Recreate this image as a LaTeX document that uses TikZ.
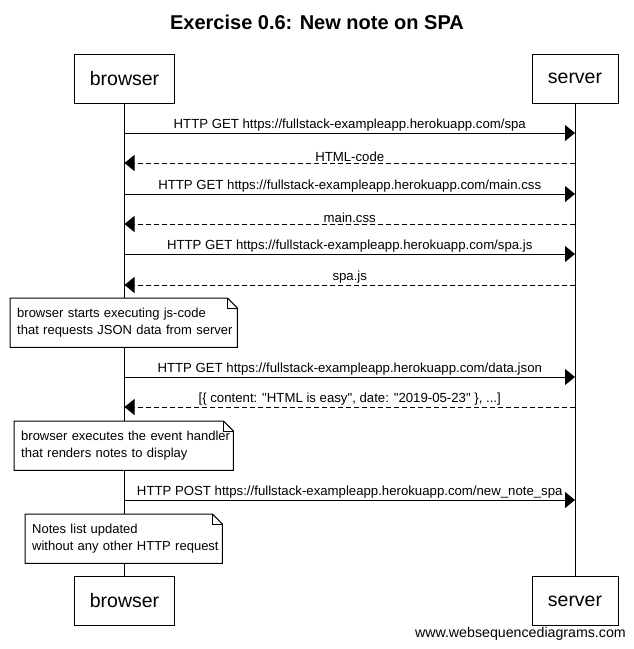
\documentclass[tikz,border=0pt]{standalone}
\usepackage{fontspec}
\setmainfont{Liberation Sans}
\newfontfamily\nomapfont{Liberation Sans}
\usetikzlibrary{arrows.meta}
\tikzset{
  part/.style={draw, line width=1pt, fill=white, minimum height=49pt, inner sep=0pt, font=\fontsize{19.5}{24}\selectfont},
  msg/.style={line width=1pt, -{Triangle[length=10pt,width=16pt]}},
  reply/.style={msg, dash pattern=on 5pt off 3pt},
  lbl/.style={above=-1pt, inner sep=2pt, font=\fontsize{13.2}{15}\selectfont},
  notebox/.style={anchor=north west, fill=white, minimum height=49pt, inner xsep=7pt, inner ysep=0pt, align=left, font=\fontsize{13}{16.5}\selectfont},
  noteline/.style={line width=1pt, line join=miter},
  life/.style={line width=1pt}
}
\newcommand{\notefold}[1]{%
  \draw[noteline] (#1.north west) -- ([xshift=-10pt]#1.north east) -- ([yshift=-10pt]#1.north east) -- (#1.south east) -- (#1.south west) -- cycle;
  \draw[line width=0.8pt] ([xshift=-10pt]#1.north east) -- ([xshift=-10pt,yshift=-10pt]#1.north east) -- ([yshift=-10pt]#1.north east);
}
\begin{document}
\begin{tikzpicture}[x=1pt,y=-1pt]
\useasboundingbox (0,0) rectangle (633,649);
\fill[white] (0,0) rectangle (633,649);

\node[font=\bfseries\fontsize{20}{24}\selectfont] (title) at (317,22) {Exercise 0.6: New note on SPA};

\node[part, minimum width=100pt] (bt) at (124.5,78.5) {browser};
\node[part, minimum width=86pt] (st) at (575,78.5) {server};
\node[part, minimum width=100pt] (bb) at (124.5,601) {browser};
\node[part, minimum width=86pt] (sb) at (575,601) {server};

\draw[life] (bt) -- (bb);
\draw[life] (st) -- (sb);

% message anchor points on lifelines
\foreach \i/\y in {1/133,2/163,3/194,4/224,5/254,6/285,7/377,8/407,9/500}{
  \coordinate (b\i) at (124.5,\y);
  \coordinate (s\i) at (575,\y);
}

\draw[msg] (b1) -- node[lbl] {HTTP GET https://fullstack-exampleapp.herokuapp.com/spa} (s1);
\draw[reply] (s2) -- node[lbl] {HTML-code} (b2);
\draw[msg] (b3) -- node[lbl] {HTTP GET https://fullstack-exampleapp.herokuapp.com/main.css} (s3);
\draw[reply] (s4) -- node[lbl] {main.css} (b4);
\draw[msg] (b5) -- node[lbl] {HTTP GET https://fullstack-exampleapp.herokuapp.com/spa.js} (s5);
\draw[reply] (s6) -- node[lbl] {spa.js} (b6);

\node[notebox, text width=213pt] (n1) at (10,298) {\mbox{browser starts executing js-code}\\\mbox{that requests JSON data from server}};
\notefold{n1}

\draw[msg] (b7) -- node[lbl] {HTTP GET https://fullstack-exampleapp.herokuapp.com/data.json} (s7);
\draw[reply] (s8) -- node[lbl] {\nomapfont [\{ content: "HTML is easy", date: "2019-05-23" \}, ...]} (b8);

\node[notebox, text width=205pt] (n2) at (14,421) {\mbox{browser executes the event handler}\\\mbox{that renders notes to display}};
\notefold{n2}

\draw[msg] (b9) -- node[lbl] {HTTP POST https://fullstack-exampleapp.herokuapp.com/new\_note\_spa} (s9);

\node[notebox, text width=183pt] (n3) at (25,514) {\mbox{Notes list updated}\\\mbox{without any other HTTP request}};
\notefold{n3}

\node[anchor=east, inner sep=0pt, font=\fontsize{14.2}{16}\selectfont] (wm) at (626,634) {www.websequencediagrams.com};
\end{tikzpicture}
\end{document}
